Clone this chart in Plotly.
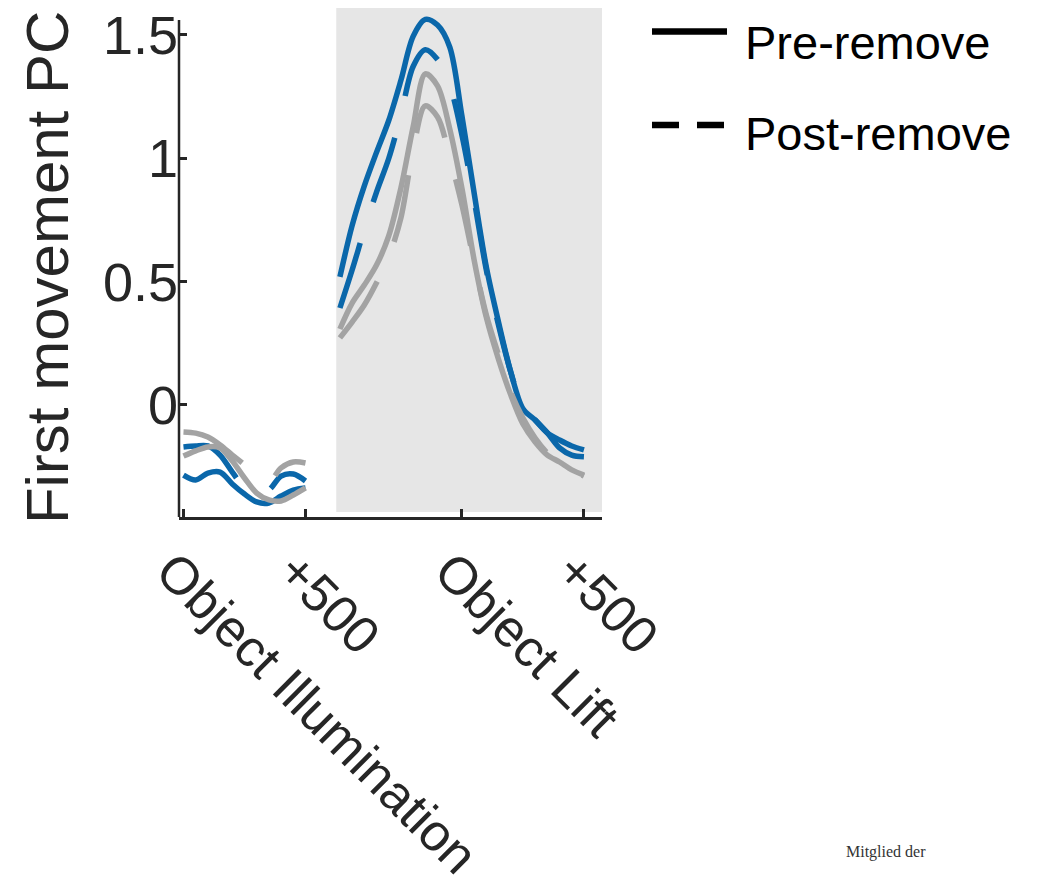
import plotly.graph_objects as go

# ---------------- data ----------------
# time (ms) relative to Object Illumination
t_illum = [0, 50, 100, 150, 200, 250, 300, 350, 400, 450, 500]
# time (ms) relative to Object Lift
t_lift = [-500, -450, -400, -350, -300, -250, -200, -150, -100, -50, 0,
          50, 100, 150, 200, 250, 300, 350, 400, 450, 500]

# first movement PC, Object Illumination epoch
blue_pre_illum = [-0.284, -0.304, -0.276, -0.272, -0.320, -0.361, -0.393, -0.397, -0.369, -0.345, -0.336]
blue_post_illum = [-0.170, -0.166, -0.166, -0.203, -0.272, -0.336, -0.365, -0.345, -0.288, -0.280, -0.308]
gray_pre_illum = [-0.207, -0.186, -0.170, -0.174, -0.227, -0.296, -0.357, -0.385, -0.389, -0.365, -0.336]
gray_post_illum = [-0.109, -0.114, -0.130, -0.162, -0.203, -0.243, -0.296, -0.312, -0.255, -0.231, -0.235]

# first movement PC, Object Lift epoch
blue_pre_lift = [0.519, 0.727, 0.888, 1.024, 1.153, 1.316, 1.494, 1.563, 1.540, 1.451, 1.171,
                 0.859, 0.559, 0.336, 0.134, -0.015, -0.061, -0.113, -0.142, -0.166, -0.182]
blue_post_lift = [0.393, 0.547, 0.711, 0.863, 0.999, 1.176, 1.372, 1.440, 1.400, 1.297, 1.094,
                  0.831, 0.547, 0.324, 0.134, -0.012, -0.061, -0.113, -0.174, -0.203, -0.210]
gray_pre_lift = [0.308, 0.413, 0.486, 0.567, 0.685, 0.880, 1.127, 1.342, 1.293, 1.119, 0.878,
                 0.588, 0.355, 0.185, 0.041, -0.077, -0.150, -0.203, -0.231, -0.263, -0.284]
gray_post_lift = [0.272, 0.336, 0.405, 0.495, 0.600, 0.758, 1.034, 1.212, 1.167, 1.005, 0.811,
                  0.580, 0.365, 0.203, 0.053, -0.053, -0.134, -0.195, -0.235, -0.263, -0.288]

tick_labels = ["Object Illumination", "+500", "Object Lift", "+500"]
y_ticks = [0, 0.5, 1, 1.5]
y_tick_text = ["0", "0.5", "1", "1.5"]
legend_names = ["Pre-remove", "Post-remove"]

# ---------------- layout constants ----------------
LIFT = 1141          # position of Object Lift on the shared time axis
BLUE = "#0a67aa"
GRAY = "#a3a3a3"
AX = "#262626"
FONT = "Liberation Sans, Arial, Helvetica, sans-serif"
DASH = "68px,43px"
LW = 5.5

x_lift = [LIFT + t for t in t_lift]

fig = go.Figure()

series = [
    (t_illum, blue_pre_illum, BLUE, "solid"),
    (t_illum, blue_post_illum, BLUE, DASH),
    (t_illum, gray_pre_illum, GRAY, "solid"),
    (t_illum, gray_post_illum, GRAY, DASH),
    (x_lift, blue_pre_lift, BLUE, "solid"),
    (x_lift, blue_post_lift, BLUE, DASH),
    (x_lift, gray_pre_lift, GRAY, "solid"),
    (x_lift, gray_post_lift, GRAY, DASH),
]
for xs, ys, col, dash in series:
    fig.add_trace(go.Scatter(
        x=xs, y=ys, mode="lines", showlegend=False, hoverinfo="skip",
        line=dict(color=col, width=LW, dash=dash, shape="spline", smoothing=0.9),
    ))

Y_MIN, Y_MAX = -0.454, 1.609

shapes = [
    # shaded Object Lift epoch
    dict(type="rect", xref="x", yref="y", x0=LIFT - 515, x1=1715, y0=-0.434, y1=Y_MAX,
         fillcolor="#e6e6e6", line=dict(width=0), layer="below"),
    # y axis line
    dict(type="line", xref="paper", yref="y", x0=0, x1=0, y0=Y_MIN, y1=1.56,
         line=dict(color=AX, width=2.5)),
    # legend lines
    dict(type="line", xref="paper", yref="paper", x0=1.1182, x1=1.2955, y0=0.9538, y1=0.9538,
         line=dict(color="black", width=6.5)),
    dict(type="line", xref="paper", yref="paper", x0=1.1182, x1=1.2955, y0=0.7701, y1=0.7701,
         line=dict(color="black", width=6.5, dash="27px,18px")),
]

annotations = [
    dict(text=legend_names[0], xref="paper", yref="paper", x=1.3333, y=0.932,
         xanchor="left", yanchor="middle", showarrow=False,
         font=dict(family=FONT, size=47, color="black")),
    dict(text=legend_names[1], xref="paper", yref="paper", x=1.3333, y=0.754,
         xanchor="left", yanchor="middle", showarrow=False,
         font=dict(family=FONT, size=47, color="black")),
    dict(text="First movement PC", xref="paper", yref="paper", x=-0.312, y=0.489,
         xanchor="center", yanchor="middle", textangle=-90, showarrow=False,
         font=dict(family=FONT, size=60, color=AX)),
    dict(text="Mitglied der", xref="paper", yref="paper", x=1.572, y=-0.658,
         xanchor="left", yanchor="middle", showarrow=False,
         font=dict(family="Liberation Serif, DejaVu Serif, serif", size=16, color="#333333")),
]

fig.update_layout(
    width=1043, height=890,
    margin=dict(l=179, r=441, t=8, b=373, autoexpand=False),
    paper_bgcolor="white", plot_bgcolor="white",
    showlegend=False,
    shapes=shapes, annotations=annotations,
    xaxis=dict(
        range=[-18.4, 1715], tickmode="array",
        tickvals=[0, 500, LIFT, LIFT + 500], ticktext=tick_labels,
        tickangle=45, ticks="inside", ticklen=8, tickwidth=2.5, tickcolor=AX,
        ticklabelshift=-12,
        showline=True, linecolor=AX, linewidth=2.5, showgrid=False, zeroline=False,
        tickfont=dict(family=FONT, size=52, color=AX),
    ),
    yaxis=dict(
        range=[Y_MIN, Y_MAX], tickmode="array", tickvals=y_ticks, ticktext=y_tick_text,
        ticks="inside", ticklen=8, tickwidth=2.5, tickcolor=AX,
        showline=False, showgrid=False, zeroline=False,
        tickfont=dict(family=FONT, size=54, color=AX),
    ),
)

fig.write_html("out.html", config={"displayModeBar": False},
               post_script="document.body.style.margin='0';")
